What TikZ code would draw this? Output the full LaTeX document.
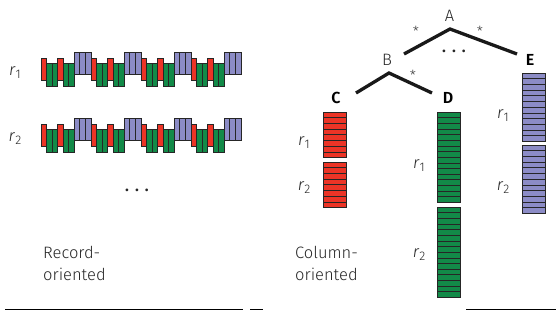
\documentclass[tikz,border=0pt]{standalone}
\usepackage{fontspec}
\setmainfont{Fira Sans Light}[BoldFont={Fira Sans SemiBold},ItalicFont={Fira Sans Light Italic}]
\usepackage{tikz}
\definecolor{recred}{RGB}{236,52,38}
\definecolor{recgreen}{RGB}{18,138,72}
\definecolor{recblue}{RGB}{140,140,198}
\tikzset{
  cell/.style={draw=black!85, line width=0.7pt},
  redcell/.style={cell, fill=recred},
  greencell/.style={cell, fill=recgreen},
  bluecell/.style={cell, fill=recblue},
  lbl/.style={text=black!85, font=\fontsize{16.5}{22}\selectfont, inner sep=0pt},
  colname/.style={text=black, font=\fontsize{16}{22}\selectfont\bfseries, inner sep=0pt},
  treeline/.style={line width=3.3pt, black!90},
  star/.style={text=black!80, font=\fontsize{14}{14}\selectfont, inner sep=0pt, anchor=north}
}
\newcommand\rlab[1]{\textit{r}\raisebox{-0.35ex}{\fontsize{12.5}{12.5}\selectfont #1}}

\begin{document}
\begin{tikzpicture}[x=1pt, y=-1pt]
                \useasboundingbox (0,0) rectangle (556,310);
                % record-oriented
                \foreach \y in {0,66} {
                  \foreach \k in {0,...,3} {
                    \begin{scope}[shift={(41+50*\k,\y)}]
                      \draw[redcell] (0,58) rectangle (5.5,80);
                      \draw[redcell] (16.5,58) rectangle (22,80);
                      \foreach \g in {5.5,11,22,27.5} \draw[greencell] (\g,63) rectangle ++(5.5,23.5);
                      \foreach \b in {0,1,2} \draw[bluecell] (33+17/3*\b,52) rectangle ++(17/3,22);
                    \end{scope}
                  }
                }
                \node[lbl] (rec1) at (15,72.5) {\rlab{1}};
                \node[lbl] (rec2) at (15,138.5) {\rlab{2}};
                \node[lbl, font=\fontsize{16}{22}\selectfont\bfseries] (recdots) at (137,190) {.\hspace{6pt}.\hspace{6pt}.};
                \node[lbl, anchor=north west, align=left] (rectext) at (43,246.5) {Record-\\oriented};
                % tree
                \coordinate (topA) at (450,29);
                \coordinate (endB) at (404,54);
                \coordinate (endE) at (517,54);
                \coordinate (topB) at (389,73);
                \coordinate (endC) at (356,93);
                \coordinate (endD) at (432,93);
                \draw[treeline] (endB) -- (topA) -- (endE);
                \draw[treeline] (endC) -- (topB) -- (endD);
                \node[lbl] (A) at (449.5,16) {A};
                \node[lbl] (B) at (387,60) {B};
                \node[colname] (C) at (336,98) {C};
                \node[colname] (D) at (448,98) {D};
                \node[colname] (E) at (530,60) {E};
                \node[star] (starAB) at (416,25.5) {*};
                \node[star] (starAE) at (480,25.5) {*};
                \node[star] (starBD) at (413,69.5) {*};
                \node[lbl, font=\fontsize{16}{22}\selectfont\bfseries] (treedots) at (454,51) {.\hspace{6pt}.\hspace{6pt}.};
                % column-oriented
                \foreach \i in {0,...,7} {
                  \draw[redcell] (323,112+5.7*\i) rectangle ++(23,5.7);
                  \draw[redcell] (323,162+5.7*\i) rectangle ++(23,5.7);
                }
                \foreach \i in {0,...,15} {
                  \draw[greencell] (437,112+5.65*\i) rectangle ++(23,5.65);
                  \draw[greencell] (437,207+5.65*\i) rectangle ++(23,5.65);
                }
                \foreach \i in {0,...,11} {
                  \draw[bluecell] (522,73+5.7*\i) rectangle ++(23,5.7);
                  \draw[bluecell] (522,145+5.7*\i) rectangle ++(23,5.7);
                }
                \node[lbl] (cr1) at (304,143) {\rlab{1}};
                \node[lbl] (cr2) at (304,187.5) {\rlab{2}};
                \node[lbl] (dr1) at (419,165.5) {\rlab{1}};
                \node[lbl] (dr2) at (419,254.5) {\rlab{2}};
                \node[lbl] (er1) at (503,115.5) {\rlab{1}};
                \node[lbl] (er2) at (503,187.5) {\rlab{2}};
                \node[lbl, anchor=north west, align=left] (coltext) at (295,246.5) {Column-\\oriented};
                % edge rules
                \draw[line width=0.8pt] (5,309.4) -- (243,309.4);
                \draw[line width=0.8pt] (250,309.4) -- (263,309.4);
                \draw[line width=0.8pt] (466,309.4) -- (556,309.4);
            \end{tikzpicture}
\end{document}
